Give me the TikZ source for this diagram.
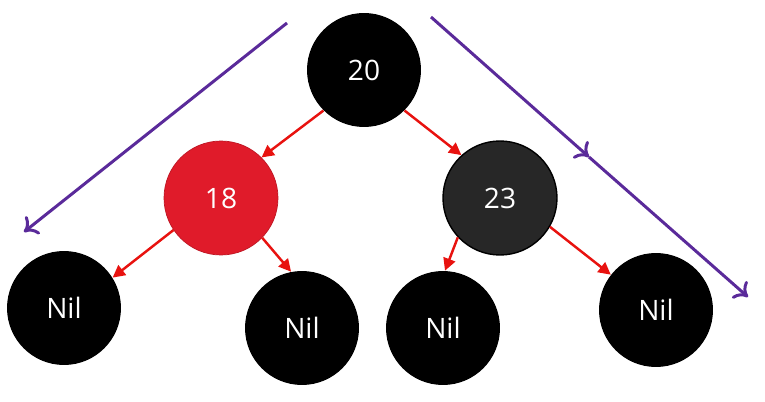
\documentclass[tikz,border=0pt]{standalone}
\usepackage{fontspec}
\setmainfont{Open Sans}
\usetikzlibrary{arrows.meta}
\definecolor{rbred}{HTML}{E01B2A}
\definecolor{rbgray}{HTML}{272727}
\definecolor{edgered}{HTML}{E8120F}
\definecolor{walk}{HTML}{5A2A9A}

\begin{document}
\begin{tikzpicture}[x=0.02cm,y=-0.02cm,
    >={Triangle[length=7pt,width=7pt]},
    walkline/.style={draw=walk,line width=1.7pt,-{To[length=7pt,width=13pt,line width=1.7pt]}}]
    \newcommand\rbnode[5]{
      \node[circle,#4,minimum size=2.28cm,inner sep=0pt,text=white,
      font=\fontsize{16}{19}\selectfont] at (#1,#2) (#3) {#5};
    }
    \useasboundingbox (0,0) rectangle (765,402);
    \rbnode{364}{70}{20}{fill=black}{20}
    \rbnode{221}{198}{18}{fill=rbred,draw=rbred!85!black}{18}
    \rbnode{500}{198}{23}{fill=rbgray,draw=black,thick}{23}
    \rbnode{64}{308}{nil1}{fill=black}{Nil}
    \rbnode{302}{328}{nil2}{fill=black}{Nil}
    \rbnode{443}{328}{nil3}{fill=black}{Nil}
    \rbnode{656}{310}{nil4}{fill=black}{Nil}
    \draw[edgered,line width=1.4pt] (20.225) edge[->] (18.45) (20.-45) edge[->] (23.132)
    (18.214) edge[->] (nil1.32) (18.-44) edge[->] (nil2.101)
    (23.223) edge[->] (nil3.88) (23.-30) edge[->] (nil4.142);
    % traversal arrows
    \coordinate (l1) at (287,23);
    \coordinate (l2) at (24,232);
    \coordinate (r1) at (431,17);
    \coordinate (rm) at (589,157);
    \coordinate (r2) at (748,297);
    \draw[walkline] (l1) -- (l2);
    \draw[walkline] (r1) -- (rm);
    \draw[walkline] (rm) -- (r2);
  \end{tikzpicture}
\end{document}
